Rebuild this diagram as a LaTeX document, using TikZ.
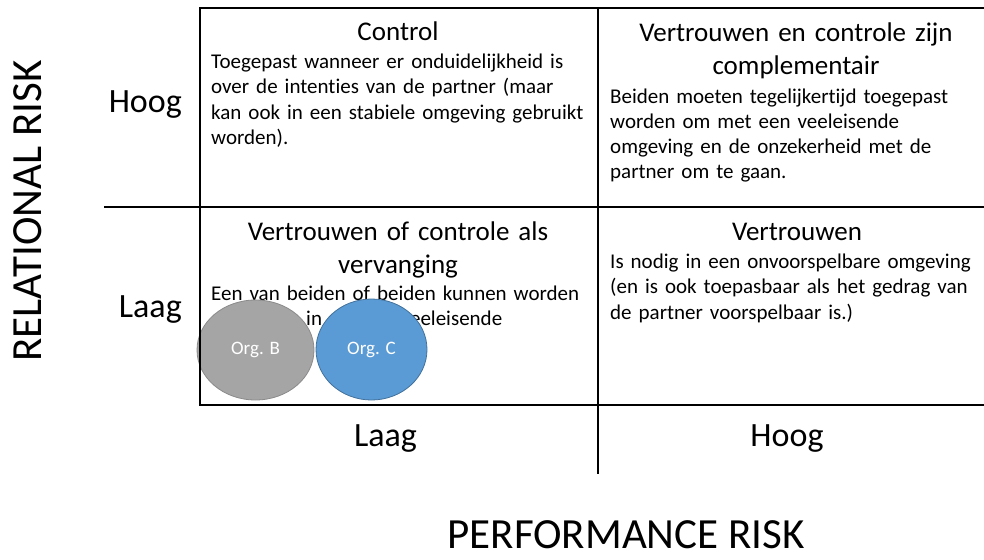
\documentclass[tikz,border=0pt]{standalone}
\usepackage{fontspec}
\setmainfont{Carlito}[Ligatures=NoCommon]
\usetikzlibrary{shapes.geometric}
\definecolor{orggrey}{HTML}{A5A5A5}
\definecolor{orggreyline}{HTML}{8A8A8A}
\definecolor{orgblue}{HTML}{5B9BD5}
\definecolor{orgblueline}{HTML}{41719C}
\begin{document}
\begin{tikzpicture}[x=1pt,y=-1pt,
  gridline/.style={line width=2pt,line cap=rect},
  celltitle/.style={anchor=base,inner sep=0pt,align=center,text width=390pt,
    font=\fontsize{27}{33}\selectfont},
  celltext/.style={anchor=base west,inner sep=0pt,align=left,text width=460pt,
    font=\fontsize{21}{25.3}\selectfont},
  level/.style={inner sep=0pt,font=\fontsize{34}{40}\selectfont},
  axistitle/.style={inner sep=0pt,font=\fontsize{43}{50}\selectfont},
  org/.style={ellipse,draw,line width=0.8pt,inner sep=0pt,text=white,
    font=\fontsize{19}{22}\selectfont}]
\useasboundingbox (0,0) rectangle (984,559);

% grid corners and axis ends
\coordinate (tl) at (200,8);
\coordinate (tr) at (984,8);
\coordinate (bl) at (200,405);
\coordinate (br) at (984,405);
\coordinate (ml) at (105,207);
\coordinate (mr) at (984,207);
\coordinate (mt) at (598,8);
\coordinate (mb) at (598,473);

% quadrant texts
\node[celltitle] (ctrlT) at (398,41) {Control};
\node[celltext] (ctrlB) at (211,68.5) {Toegepast wanneer er onduidelijkheid is\\
  over de intenties van de partner (maar\\
  kan ook in een stabiele omgeving gebruikt\\
  worden).};

\node[celltitle] (compT) at (796,41.5) {Vertrouwen en controle zijn\\complementair};
\node[celltext] (compB) at (610,103) {Beiden moeten tegelijkertijd toegepast\\
  worden om met een veeleisende\\
  omgeving en de onzekerheid  met de\\
  partner om te gaan.};

\node[celltitle] (vervT) at (398,240) {Vertrouwen of controle als\\vervanging};
\node[celltext] (vervB) at (211,300) {Een van beiden of beiden kunnen worden\\
  \hspace*{95pt}in\hspace{88pt}eeleisende};

\node[celltitle] (vertT) at (797,240) {Vertrouwen};
\node[celltext] (vertB) at (610,268.5) {Is nodig in een onvoorspelbare omgeving\\
  (en is ook toepasbaar als het gedrag van\\
  de partner voorspelbaar is.)};

% organisations
\node[org,fill=orggrey,draw=orggreyline,minimum width=117pt,minimum height=100pt]
  (orgB) at (255.5,350) {Org. B};
\node[org,fill=orgblue,draw=orgblueline,minimum width=111pt,minimum height=101pt]
  (orgC) at (371.5,349.5) {Org. C};

% grid
\draw[gridline] (tl) -- (tr);
\draw[gridline] (tl) -- (bl) -- (br);
\draw[gridline] (ml) -- (mr);
\draw[gridline] (mt) -- (mb);

% level labels
\node[level,anchor=base east] (hoogL) at (182,113) {Hoog};
\node[level,anchor=base east] (laagL) at (182,317) {Laag};
\node[level,anchor=base] (laagB) at (385.5,446) {Laag};
\node[level,anchor=base] (hoogB) at (787,446) {Hoog};

% axis titles
\node[axistitle,anchor=base,rotate=90] (relrisk) at (41.5,211) {RELATIONAL RISK};
\node[axistitle,anchor=base] (perfrisk) at (626,548) {PERFORMANCE RISK};
\end{tikzpicture}
\end{document}
